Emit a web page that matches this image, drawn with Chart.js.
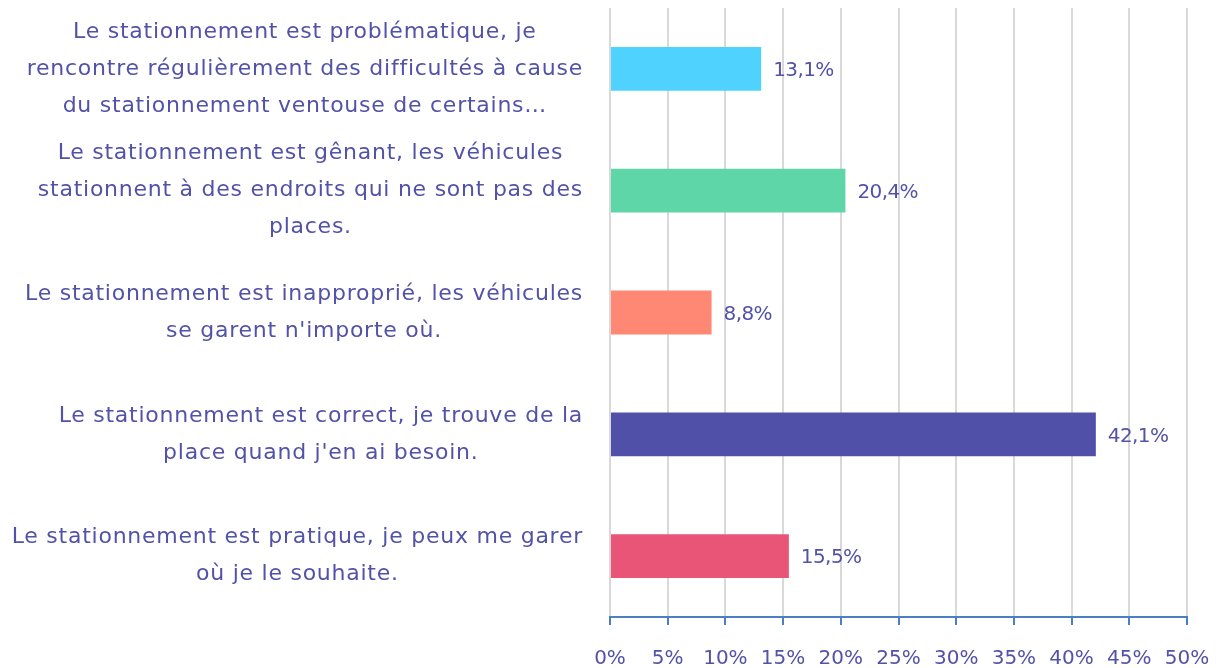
<!DOCTYPE html>
<html><head><meta charset="utf-8">
<script src="https://cdn.jsdelivr.net/npm/chart.js@4.4.1/dist/chart.umd.min.js"></script>
<style>html,body{margin:0;padding:0;background:#fff}#wrap{width:1219px;height:668px}</style>
</head><body><div id="wrap"><canvas id="c" width="1219" height="668"></canvas></div>
<script>
const categories = [
  ["Le stationnement est problématique, je", "rencontre régulièrement des difficultés à cause", "du stationnement ventouse de certains…"],
  ["Le stationnement est gênant, les véhicules", "stationnent à des endroits qui ne sont pas des", "places."],
  ["Le stationnement est inapproprié, les véhicules", "se garent n'importe où."],
  ["Le stationnement est correct, je trouve de la", "place quand j'en ai besoin."],
  ["Le stationnement est pratique, je peux me garer", "où je le souhaite."]
];
const values = [13.1, 20.4, 8.8, 42.1, 15.5];
const barColors = ["#4fd2fd", "#5fd6a8", "#ff8874", "#5150a9", "#e95576"];
const xTicks = [0, 5, 10, 15, 20, 25, 30, 35, 40, 45, 50];

const TXT = "#5252a8";
const FONT = "'DejaVu Sans', sans-serif";
const fmt = v => v.toFixed(1).replace('.', ',') + '%';

const labelPlugin = {
  id: 'labels',
  afterDraw(chart) {
    const ctx = chart.ctx;
    const y = chart.scales.y;
    ctx.save();
    ctx.fillStyle = TXT;
    ctx.font = "22px " + FONT;
    ctx.letterSpacing = "0.75px";
    ctx.textBaseline = 'middle';
    const right = 583, lh = 37;
    categories.forEach((lines, i) => {
      const cy = y.getPixelForValue(i);
      const w = Math.max(...lines.map(l => ctx.measureText(l).width));
      const cx = right - w / 2;
      ctx.textAlign = 'center';
      lines.forEach((l, k) => {
        ctx.fillText(l, cx, cy + (k - (lines.length - 1) / 2) * lh);
      });
    });
    ctx.letterSpacing = "-0.6px";
    ctx.font = "20px " + FONT;
    const meta = chart.getDatasetMeta(0);
    ctx.textAlign = 'left';
    meta.data.forEach((bar, i) => {
      ctx.fillText(fmt(values[i]), bar.x + 12, bar.y + 2);
    });
    ctx.restore();
  }
};

new Chart(document.getElementById('c'), {
  type: 'bar',
  data: {
    labels: categories,
    datasets: [{ data: values, backgroundColor: barColors, barPercentage: 0.36, categoryPercentage: 1 }]
  },
  options: {
    indexAxis: 'y',
    responsive: false,
    animation: false,
    layout: { padding: { top: 8, right: 32, bottom: 0, left: 0 } },
    plugins: { legend: { display: false }, tooltip: { enabled: false } },
    scales: {
      x: {
        min: 0, max: 50,
        afterBuildTicks: s => { s.ticks = xTicks.map(v => ({ value: v })); },
        afterFit: s => { s.height = 51; s.paddingRight = 0; s.paddingLeft = 0; },
        ticks: { color: TXT, font: { family: FONT, size: 20, lineHeight: 1.0 }, padding: 24, callback: v => v + '%', maxRotation: 0 },
        grid: { color: '#d9d9d9', lineWidth: 2, tickColor: '#4a7fc1', tickLength: 8, drawTicks: true },
        border: { color: '#4a7fc1', width: 2 }
      },
      y: {
        ticks: { display: false },
        grid: { display: false },
        border: { display: false },
        afterFit: s => { s.width = 610; }
      }
    }
  },
  plugins: [labelPlugin]
});
</script></body></html>
